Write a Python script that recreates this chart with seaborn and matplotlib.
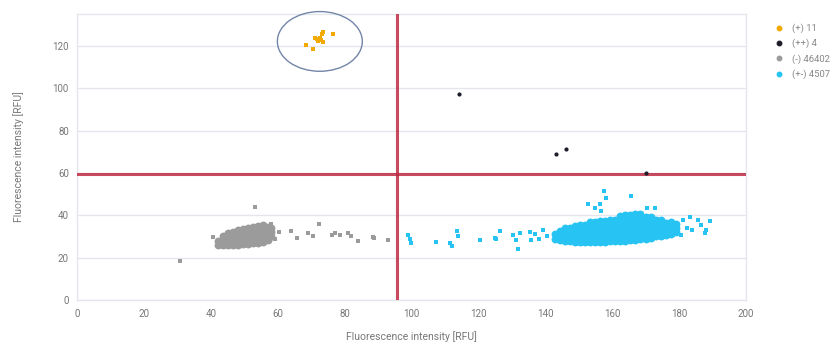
import matplotlib
matplotlib.use("Agg")
import matplotlib.pyplot as plt
from matplotlib.patches import Ellipse
from matplotlib.lines import Line2D
import seaborn as sns

# ---- data (estimates) ----
pos_pos_x = [68.5, 70.6, 71.2, 71.7, 72.1, 72.6, 73.1, 73.4, 73.6, 76.4, 72.9]
pos_pos_y = [120.3, 118.7, 123.9, 123.1, 122.4, 123.6, 125.5, 126.7, 121.6, 125.5, 122.7]

dbl_x = [114.3, 143.1, 146.2, 170.1]
dbl_y = [97.3, 68.9, 71.2, 59.9]

# negative droplets: dense core + loose ones
neg_core = [(42, 26), (42, 28),
            (43.5, 26), (43.5, 28), (43.5, 30),
            (45, 26), (45, 28), (45, 30), (45, 31.5),
            (46.5, 26), (46.5, 28), (46.5, 30), (46.5, 32),
            (48, 26), (48, 28), (48, 30), (48, 32), (48, 33),
            (49.5, 26.5), (49.5, 28.5), (49.5, 30.5), (49.5, 32.5), (49.5, 33.5),
            (51, 26.5), (51, 28.5), (51, 30.5), (51, 32.5), (51, 34),
            (52.5, 27), (52.5, 29), (52.5, 31), (52.5, 33), (52.5, 34.5),
            (54, 27), (54, 29), (54, 31), (54, 33), (54, 35),
            (55.5, 27.5), (55.5, 29.5), (55.5, 31.5), (55.5, 33.5), (55.5, 35.5),
            (57, 28.5), (57, 30.5), (57, 32.5), (57, 34.5),
            (58, 30), (58, 32), (58, 34)]
neg_loose_x = [53.3, 30.8, 59.3, 60.3, 64.0, 65.7, 69.2, 70.7, 72.3, 76.2, 77.1, 78.6,
               80.9, 81.8, 83.9, 88.4, 88.9, 92.9, 40.7, 57.9]
neg_loose_y = [43.9, 18.5, 29.0, 32.2, 32.6, 29.5, 31.4, 30.4, 35.8, 30.7, 31.7, 30.7,
               31.4, 30.4, 27.9, 29.8, 29.2, 28.5, 29.8, 36.1]

# single positive droplets
pos_core = [(143, 29), (143, 31),
            (144.5, 28.5), (144.5, 30.5), (144.5, 32.5),
            (146, 28), (146, 30), (146, 32), (146, 34),
            (147.5, 28), (147.5, 30), (147.5, 32), (147.5, 34),
            (149, 27.5), (149, 29.5), (149, 31.5), (149, 33.5), (149, 35),
            (150.5, 27.5), (150.5, 29.5), (150.5, 31.5), (150.5, 33.5), (150.5, 35.5),
            (152, 27.5), (152, 29.5), (152, 31.5), (152, 33.5), (152, 35.5),
            (153.5, 27.5), (153.5, 29.5), (153.5, 31.5), (153.5, 33.5), (153.5, 35.5), (153.5, 37),
            (155, 27.5), (155, 29.5), (155, 31.5), (155, 33.5), (155, 35.5), (155, 37),
            (156.5, 27.5), (156.5, 29.5), (156.5, 31.5), (156.5, 33.5), (156.5, 35.5), (156.5, 37.5),
            (158, 27.5), (158, 29.5), (158, 31.5), (158, 33.5), (158, 35.5), (158, 37.5),
            (159.5, 28), (159.5, 30), (159.5, 32), (159.5, 34), (159.5, 36), (159.5, 38),
            (161, 28), (161, 30), (161, 32), (161, 34), (161, 36), (161, 38),
            (162.5, 28), (162.5, 30), (162.5, 32), (162.5, 34), (162.5, 36), (162.5, 38), (162.5, 39.5),
            (164, 28), (164, 30), (164, 32), (164, 34), (164, 36), (164, 38), (164, 40),
            (165.5, 28.5), (165.5, 30.5), (165.5, 32.5), (165.5, 34.5), (165.5, 36.5), (165.5, 38.5), (165.5, 40),
            (167, 28.5), (167, 30.5), (167, 32.5), (167, 34.5), (167, 36.5), (167, 38.5), (167, 40.5),
            (168.5, 29), (168.5, 31), (168.5, 33), (168.5, 35), (168.5, 37), (168.5, 39), (168.5, 40.5),
            (170, 29), (170, 31), (170, 33), (170, 35), (170, 37), (170, 39),
            (171.5, 29.5), (171.5, 31.5), (171.5, 33.5), (171.5, 35.5), (171.5, 37.5), (171.5, 39),
            (173, 30), (173, 32), (173, 34), (173, 36), (173, 38),
            (174.5, 30), (174.5, 32), (174.5, 34), (174.5, 36), (174.5, 38),
            (176, 30.5), (176, 32.5), (176, 34.5), (176, 36.5),
            (177.5, 31), (177.5, 33), (177.5, 35), (177.5, 37),
            (179, 32), (179, 34), (179, 36)]
pos_loose_x = [99.0, 99.5, 100.0, 107.3, 111.5, 112.2, 113.5, 114.0, 120.5, 125.0, 125.4,
               126.5, 130.4, 131.4, 131.9, 132.4, 135.4, 135.9, 137.0, 138.0, 139.4, 140.5,
               157.5, 158.1, 165.8, 152.9, 154.9, 156.4, 156.6, 170.3, 172.8, 151.9,
               188.2, 189.2, 187.7, 183.2, 185.7, 186.5, 180.6, 181.3, 182.5, 184.0]
pos_loose_y = [30.9, 29.0, 27.0, 27.6, 27.1, 25.6, 32.5, 30.3, 28.2, 29.5, 28.9,
               32.5, 30.6, 28.2, 24.3, 31.4, 32.2, 28.2, 31.0, 28.8, 32.9, 30.0,
               51.4, 48.3, 49.3, 45.2, 43.6, 45.5, 42.0, 43.6, 43.6, 26.4,
               32.9, 37.3, 31.4, 39.2, 37.6, 35.5, 30.9, 37.6, 34.0, 33.0]

labels = ["(+) 11", "(++) 4", "(-) 46402", "(+-) 4507"]
colors = ["#f2a900", "#1d1d2b", "#9b9b9b", "#27c3f3"]

thr_x = 95.7
thr_y = 59.6

# ---- plot ----
sns.set_style("white")
plt.rcParams['font.family'] = ['Roboto', 'DejaVu Sans']

fig = plt.figure(figsize=(8.38, 3.44), dpi=100)
ax = fig.add_axes([0.092, 0.128, 0.798, 0.831])

gray_core_x = [p[0] for p in neg_core]
gray_core_y = [p[1] for p in neg_core]
blue_core_x = [p[0] for p in pos_core]
blue_core_y = [p[1] for p in pos_core]

sns.scatterplot(x=gray_core_x, y=gray_core_y, color=colors[2], s=32, marker="o",
                linewidth=0, ax=ax, zorder=4)
sns.scatterplot(x=neg_loose_x, y=neg_loose_y, color=colors[2], s=6, marker="s",
                linewidth=0, ax=ax, zorder=4)
sns.scatterplot(x=blue_core_x, y=blue_core_y, color=colors[3], s=32, marker="o",
                linewidth=0, ax=ax, zorder=4)
sns.scatterplot(x=pos_loose_x, y=pos_loose_y, color=colors[3], s=7, marker="s",
                linewidth=0, ax=ax, zorder=4)
sns.scatterplot(x=pos_pos_x, y=pos_pos_y, color=colors[0], s=7, marker="s",
                linewidth=0, ax=ax, zorder=4)
sns.scatterplot(x=dbl_x, y=dbl_y, color=colors[1], s=9, marker="o",
                linewidth=0, ax=ax, zorder=5)

# threshold lines
ax.axvline(thr_x, color="#bd2a43", lw=2.2, alpha=0.85, zorder=3)
ax.axhline(thr_y, color="#bd2a43", lw=2.2, alpha=0.85, zorder=3)

# circle around the double-positive cluster
ax.add_patch(Ellipse((72.6, 122.1), 25.4, 28.2, fill=False, edgecolor="#7385a8",
                     lw=1, clip_on=False, zorder=6))

ax.set_xlim(0, 200)
ax.set_ylim(0, 135)
ax.set_xticks(range(0, 201, 20))
ax.set_yticks(range(0, 121, 20))
ax.yaxis.grid(True, color="#e4e6ec", lw=1)
ax.xaxis.grid(False)
for sp in ax.spines.values():
    sp.set_color("#e4e6ec")
    sp.set_linewidth(1)
ax.tick_params(axis="both", labelsize=7, colors="#e0e0e0", labelcolor="#777777",
               length=3, width=0.8)
ax.tick_params(axis="y", length=0, pad=6)
ax.set_xlabel("Fluorescence intensity [RFU]", fontsize=7.5, color="#777777", labelpad=9)
ax.set_ylabel("Fluorescence intensity [RFU]", fontsize=7.5, color="#777777", labelpad=20)

handles = [Line2D([], [], ls="", marker="o", ms=3.2, color=c) for c in colors]
leg = ax.legend(handles, labels, loc="upper left", bbox_to_anchor=(0.918, 0.945),
                bbox_transform=fig.transFigure, frameon=False, fontsize=6.8,
                handlelength=1.0, handletextpad=0.9, labelspacing=0.6, borderpad=0)
for t in leg.get_texts():
    t.set_color("#888888")

fig.savefig("out.png", dpi=100)
